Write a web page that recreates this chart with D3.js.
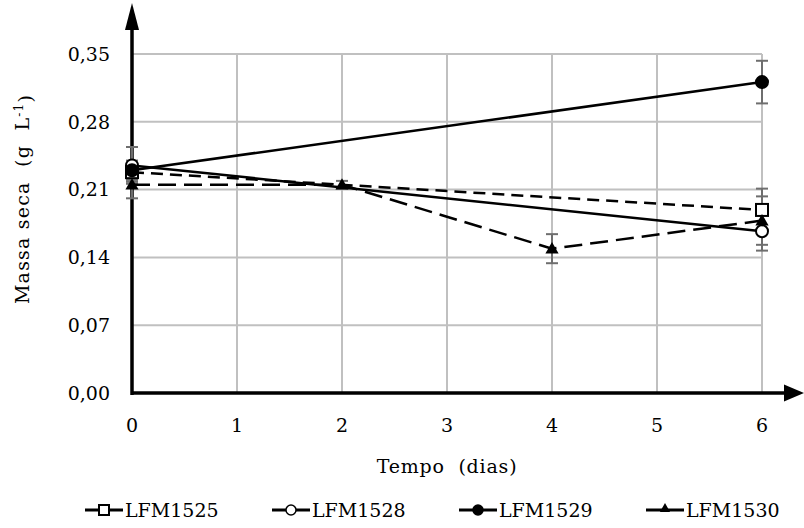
<!DOCTYPE html>
<html>
<head>
<meta charset="utf-8">
<script src="https://cdn.jsdelivr.net/npm/d3@7"></script>
</head>
<body style="margin:0; background:#fff">
<svg width="804" height="528"></svg>
<script>
/* dados */
var xTicks = [0, 1, 2, 3, 4, 5, 6];
var yTicks = [0, 0.07, 0.14, 0.21, 0.28, 0.35];

var names = ["LFM1525", "LFM1528", "LFM1529", "LFM1530"];
var lfm1525Dias = [0, 6], lfm1525Massa = [0.228, 0.189], lfm1525Erro = [0.01, 0.022];
var lfm1528Dias = [0, 6], lfm1528Massa = [0.235, 0.167], lfm1528Erro = [0.019, 0.02];
var lfm1529Dias = [0, 6], lfm1529Massa = [0.230, 0.321], lfm1529Erro = [0.01, 0.022];
var lfm1530Dias = [0, 2, 4, 6], lfm1530Massa = [0.215, 0.215, 0.149, 0.178], lfm1530Erro = [0.014, 0.004, 0.015, 0.025];

var series = [
  {name: names[0], dias: lfm1525Dias, massa: lfm1525Massa, erro: lfm1525Erro, symbol: "square", fill: "#fff", dash: "12,7"},
  {name: names[1], dias: lfm1528Dias, massa: lfm1528Massa, erro: lfm1528Erro, symbol: "circle", fill: "#fff", dash: null},
  {name: names[2], dias: lfm1529Dias, massa: lfm1529Massa, erro: lfm1529Erro, symbol: "circle", fill: "#000", dash: null},
  {name: names[3], dias: lfm1530Dias, massa: lfm1530Massa, erro: lfm1530Erro, symbol: "triangle", fill: "#000", dash: "18,8"}
];

var svg = d3.select("svg")
  .style("font-family", "'DejaVu Serif', 'Liberation Serif', serif");

var x = d3.scaleLinear().domain([0, 6]).range([132, 762]);
var y = d3.scaleLinear().domain([0, 0.35]).range([393, 54]);

var fmt = function(d) { return d3.format(".2f")(d).replace(".", ","); };

/* grade */
var grid = svg.append("g");
grid.selectAll("line.h")
  .data(yTicks.slice(1))
  .enter().append("line")
    .attr("x1", x(0)).attr("x2", x(6))
    .attr("y1", function(d) { return y(d); })
    .attr("y2", function(d) { return y(d); })
    .attr("stroke", "#c0c0c0").attr("stroke-width", 2);
grid.selectAll("line.v")
  .data(xTicks.slice(1))
  .enter().append("line")
    .attr("x1", function(d) { return x(d); })
    .attr("x2", function(d) { return x(d); })
    .attr("y1", y(0)).attr("y2", y(0.35))
    .attr("stroke", "#c0c0c0").attr("stroke-width", 2);

/* eixos com setas */
svg.append("line")
  .attr("x1", x(0)).attr("x2", 790)
  .attr("y1", y(0)).attr("y2", y(0))
  .attr("stroke", "#000").attr("stroke-width", 3.5);
svg.append("path")
  .attr("d", "M784," + (y(0) - 8.5) + "L804," + y(0) + "L784," + (y(0) + 8.5) + "Z")
  .attr("fill", "#000");
svg.append("line")
  .attr("x1", x(0)).attr("x2", x(0))
  .attr("y1", y(0) + 2).attr("y2", 20)
  .attr("stroke", "#000").attr("stroke-width", 3.5);
svg.append("path")
  .attr("d", "M" + (x(0) - 7) + ",30L" + x(0) + ",3L" + (x(0) + 7) + ",30Z")
  .attr("fill", "#000");

/* rótulos dos ticks */
svg.append("g").selectAll("text")
  .data(yTicks)
  .enter().append("text")
    .attr("x", 110)
    .attr("y", function(d) { return y(d); })
    .attr("dy", "0.36em")
    .attr("text-anchor", "end")
    .style("font-size", "19px")
    .text(fmt);

svg.append("g").selectAll("text")
  .data(xTicks)
  .enter().append("text")
    .attr("x", function(d) { return x(d); })
    .attr("y", 425)
    .attr("dy", "0.36em")
    .attr("text-anchor", "middle")
    .style("font-size", "19px")
    .text(function(d) { return d; });

svg.append("text")
  .attr("x", 447).attr("y", 466)
  .attr("dy", "0.36em")
  .attr("text-anchor", "middle")
  .style("font-size", "19px")
  .style("letter-spacing", "0.8px")
  .attr("xml:space", "preserve")
  .text("Tempo  (dias)");

var yl = svg.append("text")
  .attr("transform", "translate(22,199) rotate(-90)")
  .attr("dy", "0.36em")
  .attr("text-anchor", "middle")
  .style("font-size", "19px")
  .style("letter-spacing", "1.2px")
  .attr("xml:space", "preserve");
yl.append("tspan").text("Massa seca  (g  L");
yl.append("tspan").attr("dy", "-0.5em").style("font-size", "12px").text("-1");
yl.append("tspan").attr("dy", "0.5em").text(")");

/* séries */
var line = d3.line()
  .x(function(d) { return x(d.dia); })
  .y(function(d) { return y(d.massa); });

function pontos(s) {
  return s.dias.map(function(d, i) { return {dia: d, massa: s.massa[i], erro: s.erro[i]}; });
}

function marker(g, s, cx, cy) {
  if (s.symbol === "square") {
    g.append("rect").attr("x", cx - 6).attr("y", cy - 6).attr("width", 12).attr("height", 12)
      .attr("fill", s.fill).attr("stroke", "#000").attr("stroke-width", 2);
  } else if (s.symbol === "circle") {
    g.append("circle").attr("cx", cx).attr("cy", cy).attr("r", 6)
      .attr("fill", s.fill).attr("stroke", "#000").attr("stroke-width", 2);
  } else {
    g.append("path").attr("d", d3.symbol().type(d3.symbolTriangle).size(75)())
      .attr("transform", "translate(" + cx + "," + (cy + 1) + ")")
      .attr("fill", "#000");
  }
}

/* barras de erro */
var eb = svg.append("g");
series.forEach(function(s) {
  pontos(s).forEach(function(p) {
    var cx = x(p.dia);
    eb.append("line").attr("x1", cx).attr("x2", cx)
      .attr("y1", y(p.massa - p.erro)).attr("y2", y(p.massa + p.erro))
      .attr("stroke", "#6e6e6e").attr("stroke-width", 2);
    [p.massa - p.erro, p.massa + p.erro].forEach(function(v) {
      eb.append("line").attr("x1", cx - 6).attr("x2", cx + 6)
        .attr("y1", y(v)).attr("y2", y(v))
        .attr("stroke", "#6e6e6e").attr("stroke-width", 2);
    });
  });
});

series.forEach(function(s) {
  svg.append("path")
    .datum(pontos(s))
    .attr("fill", "none")
    .attr("stroke", "#000")
    .attr("stroke-width", 2.5)
    .attr("stroke-dasharray", s.dash)
    .attr("d", line);
});

series.forEach(function(s) {
  var g = svg.append("g");
  pontos(s).forEach(function(p) { marker(g, s, x(p.dia), y(p.massa)); });
});

/* legenda */
var legendX = d3.scalePoint().domain(names).range([85, 646]);
series.forEach(function(s) {
  var lx = legendX(s.name);
  var g = svg.append("g");
  g.append("line").attr("x1", lx).attr("x2", lx + 38)
    .attr("y1", 510).attr("y2", 510)
    .attr("stroke", "#000").attr("stroke-width", 3);
  if (s.symbol === "square") {
    g.append("rect").attr("x", lx + 14).attr("y", 505).attr("width", 10).attr("height", 10)
      .attr("fill", "#fff").attr("stroke", "#000").attr("stroke-width", 2);
  } else if (s.symbol === "circle") {
    g.append("circle").attr("cx", lx + 19).attr("cy", 510).attr("r", 5)
      .attr("fill", s.fill).attr("stroke", "#000").attr("stroke-width", 1.5);
  } else {
    g.append("path").attr("d", d3.symbol().type(d3.symbolTriangle).size(45)())
      .attr("transform", "translate(" + (lx + 19) + ",509)").attr("fill", "#000");
  }
  g.append("text").attr("x", lx + 40).attr("y", 510).attr("dy", "0.36em")
    .style("font-size", "19px").text(s.name);
});
</script>
</body>
</html>
